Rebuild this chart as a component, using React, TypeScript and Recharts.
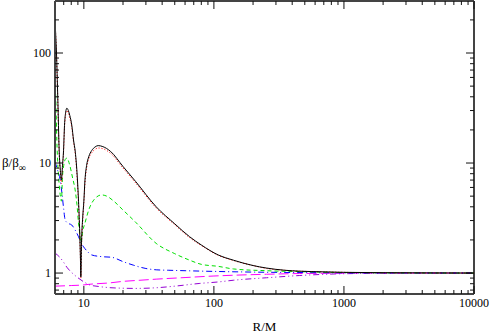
import { LineChart, Line, XAxis, YAxis, ReferenceLine } from 'recharts'

type Pt = [number, number]

// [R/M, beta/beta_inf]
const black: Pt[] = [
  [6.0, 200], [6.08, 145], [6.16, 100], [6.3, 40], [6.46, 13], [6.6, 8.5], [6.72, 7],
  [6.85, 9.5], [6.98, 13], [7.1, 22], [7.25, 29], [7.4, 31.5], [7.6, 30], [7.8, 27],
  [8.08, 22], [8.33, 16.2], [8.6, 12.5], [8.9, 7.5], [9.1, 4.5], [9.3, 2.3], [9.42, 1.3],
  [9.48, 0.92], [9.6, 1.9], [9.8, 3.2], [10.0, 4.5], [10.2, 7], [10.5, 9.5], [10.9, 11.4],
  [11.5, 13], [12.2, 14], [12.9, 14.4], [14, 14.1], [16, 12.8], [20, 9.3], [25, 6.8],
  [36, 4.0], [50, 2.8], [65, 2.14], [80, 1.8], [108, 1.46], [141, 1.31], [200, 1.17],
  [254, 1.11], [350, 1.06], [457, 1.04], [700, 1.025], [1000, 1.015], [2000, 1.007],
  [5000, 1.002], [10000, 1.0],
]

const red: Pt[] = [
  [6.0, 195], [6.08, 140], [6.16, 95], [6.3, 38], [6.46, 12.5], [6.6, 8], [6.72, 6.5],
  [6.85, 9], [6.98, 12.5], [7.1, 21], [7.25, 27.5], [7.4, 30], [7.6, 28.5], [7.8, 25.5],
  [8.08, 21], [8.33, 15.5], [8.6, 12], [8.9, 7], [9.1, 4.3], [9.3, 2.2], [9.42, 1.3],
  [9.48, 0.9], [9.6, 1.8], [9.8, 3.0], [10.0, 4.3], [10.2, 6.6], [10.5, 9], [10.9, 10.9],
  [11.5, 12.4], [12.2, 13.3], [12.9, 13.7], [14, 13.5], [16, 12.3], [20, 9.0], [25, 6.6],
  [36, 3.9], [50, 2.75], [65, 2.1], [80, 1.78], [108, 1.45], [141, 1.3], [200, 1.17],
  [254, 1.1], [350, 1.06], [457, 1.04], [700, 1.025], [1000, 1.015], [2000, 1.007],
  [5000, 1.002], [10000, 1.0],
]

const green: Pt[] = [
  [6.0, 65], [6.1, 35], [6.2, 16], [6.3, 10], [6.45, 6.5], [6.6, 5], [6.72, 4.5],
  [6.85, 7.5], [7.0, 9.5], [7.2, 10.8], [7.4, 11.1], [7.8, 9.5], [8.2, 7.3], [8.57, 5.7],
  [8.85, 4.2], [9.1, 2.85], [9.3, 2.3], [9.5, 1.87], [9.8, 2.4], [10.2, 2.85], [10.9, 3.74],
  [11.9, 4.6], [13.7, 5.13], [15, 5.0], [17, 4.5], [20, 3.74], [25, 2.9], [36, 1.86],
  [50, 1.5], [65, 1.31], [80, 1.2], [108, 1.15], [141, 1.09], [254, 1.05], [457, 1.03],
  [1000, 1.01], [3000, 1.003], [10000, 1.0],
]

const blue: Pt[] = [
  [6.0, 10.3], [6.3, 8.5], [6.58, 7.0], [6.8, 5.2], [7.0, 3.8], [7.18, 3.04], [7.5, 2.85],
  [8.08, 2.73], [8.5, 2.5], [9.1, 2.14], [9.5, 1.9], [9.95, 1.73], [10.5, 1.6], [11.5, 1.46],
  [13.7, 1.41], [16.4, 1.39], [20, 1.27], [24, 1.18], [30, 1.1], [36, 1.07], [45, 1.06],
  [60, 1.05], [100, 1.035], [200, 1.02], [500, 1.01], [1000, 1.005], [10000, 1.0],
]

const violet: Pt[] = [
  [6.0, 1.52], [6.5, 1.4], [7.0, 1.25], [7.4, 1.13], [8.0, 1.02], [8.8, 0.925], [10.2, 0.82],
  [11.1, 0.78], [13, 0.755], [15, 0.74], [20, 0.728], [25, 0.725], [36, 0.735], [50, 0.76],
  [78, 0.805], [108, 0.83], [141, 0.86], [254, 0.906], [457, 0.95], [824, 0.98],
  [1500, 0.993], [3000, 0.998], [10000, 1.0],
]

const magenta: Pt[] = [
  [6.0, 0.76], [8, 0.77], [10, 0.78], [11, 0.79], [16, 0.815], [20, 0.84], [27, 0.86],
  [36, 0.88], [60, 0.91], [100, 0.94], [141, 0.955], [254, 0.975], [457, 0.99],
  [1000, 0.997], [10000, 1.0],
]

const xTicks = [
  7, 8, 9, 10, 20, 30, 40, 50, 60, 70, 80, 90, 100, 200, 300, 400, 500, 600, 700, 800, 900,
  1000, 2000, 3000, 4000, 5000, 6000, 7000, 8000, 9000, 10000,
]
const yTicks = [0.7, 0.8, 0.9, 1, 2, 3, 4, 5, 6, 7, 8, 9, 10, 20, 30, 40, 50, 60, 70, 80, 90, 100, 200]

const series = [
  { name: 'magenta', pts: magenta, color: '#ff00ff', dash: '10 4' },
  { name: 'violet', pts: violet, color: '#9400d3', dash: '6 3 1 3 1 3' },
  { name: 'blue', pts: blue, color: '#0000ff', dash: '6 3 1 3' },
  { name: 'green', pts: green, color: '#00e000', dash: '4 3' },
  { name: 'red', pts: red, color: '#ff0000', dash: '1 2' },
  { name: 'black', pts: black, color: '#000000', dash: undefined },
]

const toRows = (pts: Pt[]) => pts.map(([r, b]) => ({ r, b }))

const isMajor = (v: number) => Math.abs(Math.log10(v) - Math.round(Math.log10(v))) < 1e-6

const W = 491
const H = 334
const MARGIN = { top: 1, right: 17, left: 0, bottom: 0 }
const X_AXIS_H = 40
const Y_AXIS_W = 55
const PLOT_W = W - MARGIN.right - Y_AXIS_W
const PLOT_H = H - MARGIN.top - X_AXIS_H

const FONT = '"Liberation Serif", serif'
const TICK = '#111'

// one tick function per axis draws the inward mark on both opposite sides
const xTick = (p: any) => {
  const { x, y, payload } = p
  const major = isMajor(payload.value)
  const len = major ? 8 : 4
  const top = y - PLOT_H
  return (
    <g>
      <path d={`M${x},${y}V${y - len}`} stroke={TICK} strokeWidth={1} fill="none" />
      <path d={`M${x},${top}V${top + len}`} stroke={TICK} strokeWidth={1} fill="none" />
      {major && (
        <text x={x} y={y + 13} textAnchor="middle" fill="#000" fontFamily={FONT} fontSize={12}>
          {payload.value}
        </text>
      )}
    </g>
  )
}

const yTick = (p: any) => {
  const { x, y, payload } = p
  const major = isMajor(payload.value)
  const len = major ? 8 : 4
  const right = x + PLOT_W
  return (
    <g>
      <path d={`M${x},${y}H${x + len}`} stroke={TICK} strokeWidth={1} fill="none" />
      <path d={`M${right},${y}H${right - len}`} stroke={TICK} strokeWidth={1} fill="none" />
      {major && (
        <text x={x - 4} y={y + 4} textAnchor="end" fill="#000" fontFamily={FONT} fontSize={12}>
          {payload.value}
        </text>
      )}
    </g>
  )
}

const titleStyle = {
  position: 'absolute' as const,
  fontFamily: FONT,
  fontSize: 13,
  color: '#000',
  lineHeight: '13px',
  whiteSpace: 'nowrap' as const,
}

export default function App() {
  return (
    <div style={{ position: 'absolute', left: 0, top: 0, width: W, height: H, background: '#fff' }}>
      <LineChart width={W} height={H} margin={MARGIN}>
        <XAxis
          type="number"
          dataKey="r"
          scale="log"
          domain={[6, 10000]}
          allowDataOverflow
          ticks={xTicks}
          interval={0}
          height={X_AXIS_H}
          tickSize={0}
          tickMargin={0}
          tickLine={false}
          tick={xTick}
          axisLine={{ stroke: '#444', strokeWidth: 2 }}
        />
        <YAxis
          type="number"
          scale="log"
          domain={[0.645, 297]}
          allowDataOverflow
          ticks={yTicks}
          interval={0}
          width={Y_AXIS_W}
          tickSize={0}
          tickMargin={0}
          tickLine={false}
          tick={yTick}
          axisLine={{ stroke: '#444', strokeWidth: 2 }}
        />
        {/* top and right sides of the frame */}
        <ReferenceLine y={297} stroke="#444" strokeWidth={2} />
        <ReferenceLine x={10000} stroke="#444" strokeWidth={2} />
        {series.map(s => (
          <Line
            key={s.name}
            data={toRows(s.pts)}
            dataKey="b"
            type="monotone"
            stroke={s.color}
            strokeWidth={1}
            strokeDasharray={s.dash}
            dot={false}
            activeDot={false}
            isAnimationActive={false}
          />
        ))}
      </LineChart>
      <div style={{ ...titleStyle, left: 2, top: 156 }}>
        β/β<sub style={{ fontSize: 10, verticalAlign: '-4px' }}>∞</sub>
      </div>
      <div style={{ ...titleStyle, left: 0, width: 529, textAlign: 'center', top: 320 }}>R/M</div>
    </div>
  )
}
